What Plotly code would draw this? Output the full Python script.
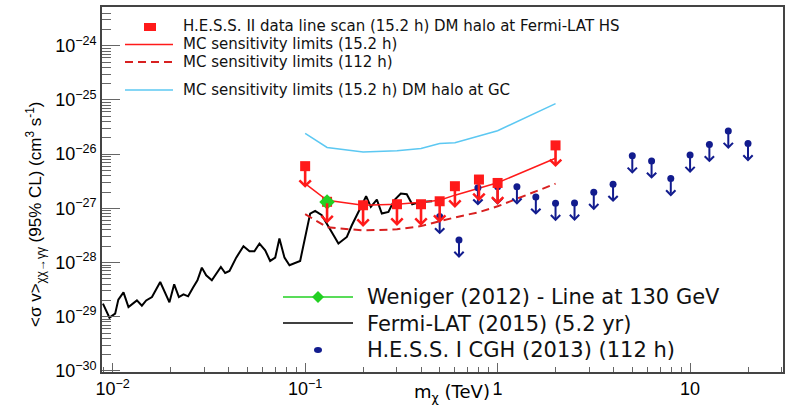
import plotly.graph_objects as go
import numpy as np

# ---------------- data ----------------
# Fermi-LAT (2015) 5.2 yr line-search limits
fermi_mass = [0.0089, 0.00962, 0.0103, 0.0107, 0.01138, 0.01208, 0.01336, 0.01418, 0.01493, 0.0160,
              0.01766, 0.01972, 0.02087, 0.02208, 0.02333, 0.02466, 0.02612, 0.02757, 0.02906, 0.0306,
              0.03275, 0.03648, 0.03841, 0.04045, 0.04383, 0.0478, 0.0514, 0.0545, 0.0579, 0.0620,
              0.0658, 0.0699, 0.0735, 0.0781, 0.0829, 0.0942, 0.1062, 0.1127, 0.1221, 0.1349,
              0.1489, 0.1647, 0.1748, 0.1931, 0.2074, 0.2194, 0.2358, 0.2503, 0.2709, 0.2900,
              0.3141, 0.3373, 0.360, 0.3953, 0.457]
fermi_sv = [1.74e-29, 9.6e-30, 1.14e-29, 2.07e-29, 2.82e-29, 1.51e-29, 2.0e-29, 1.60e-29, 2.0e-29, 2.31e-29,
            4.37e-29, 1.84e-29, 3.96e-29, 2.31e-29, 2.59e-29, 2.38e-29, 3.44e-29, 4.70e-29, 8.05e-29, 5.8e-29,
            4.70e-29, 8.26e-29, 6.40e-29, 6.97e-29, 1.23e-28, 2.0e-28, 1.61e-28, 1.61e-28, 2.24e-28, 1.68e-28,
            1.07e-28, 1.23e-28, 2.77e-28, 1.23e-28, 8.89e-29, 1.07e-28, 8.0e-28, 8.95e-28, 7.45e-28, 3.94e-28,
            2.24e-28, 2.96e-28, 4.87e-28, 9.9e-28, 1.67e-27, 1.06e-27, 1.45e-27, 8.0e-28, 8.57e-28, 1.41e-27,
            1.88e-27, 1.82e-27, 1.19e-27, 1.31e-27, 1.35e-27]

# H.E.S.S. II line scan masses (TeV)
hess2_mass = [0.1, 0.13, 0.2, 0.3, 0.4, 0.5, 0.6, 0.8, 1.0, 2.0]
hess2_data = [6.0e-27, 1.32e-27, 1.14e-27, 1.19e-27, 1.19e-27, 1.35e-27, 2.56e-27, 3.40e-27, 2.94e-27, 1.45e-26]
mc_15h = [2.85e-27, 1.41e-27, 1.14e-27, 1.19e-27, 1.29e-27, 1.41e-27, 1.75e-27, 2.35e-27, 2.97e-27, 8.4e-27]
mc_112h = [7.8e-28, 4.5e-28, 3.9e-28, 4.1e-28, 4.7e-28, 5.8e-28, 6.8e-28, 8.5e-28, 1.09e-27, 2.85e-27]
mc_gc = [2.41e-26, 1.33e-26, 1.09e-26, 1.15e-26, 1.27e-26, 1.57e-26, 1.63e-26, 2.15e-26, 2.71e-26, 8.55e-26]

# Weniger (2012) 130 GeV line
weniger_mass = [0.13]
weniger_sv = [1.31e-27]

# H.E.S.S. I CGH (2013) 112 h limits
hess1_mass = [0.5, 0.63, 0.79, 1.0, 1.26, 1.58, 2.0, 2.51, 3.16, 3.98,
              5.01, 6.31, 7.94, 10.0, 12.6, 15.8, 20.0]
hess1_sv = [7.1e-28, 2.6e-28, 2.4e-27, 2.5e-27, 2.5e-27, 1.62e-27, 1.24e-27, 1.25e-27, 1.98e-27, 2.79e-27,
            9.3e-27, 7.5e-27, 3.55e-27, 9.6e-27, 1.51e-26, 2.66e-26, 1.57e-26]

# axis tick labels
x_tickvals = [0.01, 0.1, 1, 10]
x_ticktext = ["10<sup>−2</sup>", "10<sup>−1</sup>", "1", "10"]
y_exponents = [-30, -29, -28, -27, -26, -25, -24]

# ---------------- style ----------------
RED = "#ff1a1a"
RED_D = "#d82020"
CYAN = "#5cc8f2"
GREEN = "#22d022"
BLUE = "#121c8e"
FONT = "Liberation Sans, Arial, sans-serif"
WIDE = "DejaVu Sans, sans-serif"

W, H = 792, 405
L, R, T, B = 102, 9, 7, 33
PW, PH = W - L - R, H - T - B


def pxx(v):
    return (v - L) / PW


def pxy(v):
    return (H - B - v) / PH


def minor_ticks(lo, hi):
    return [k * 10.0 ** e for e in range(lo, hi) for k in range(2, 10)]


fig = go.Figure()

fig.add_trace(go.Scatter(x=fermi_mass, y=fermi_sv, mode="lines",
                         line=dict(color="black", width=2), showlegend=False))
fig.add_trace(go.Scatter(x=hess2_mass, y=mc_112h, mode="lines",
                         line=dict(color=RED_D, width=2, dash="8px,5px"), showlegend=False))
fig.add_trace(go.Scatter(x=hess2_mass, y=mc_15h, mode="lines",
                         line=dict(color=RED, width=1.5), showlegend=False))
fig.add_trace(go.Scatter(x=hess2_mass, y=mc_gc, mode="lines",
                         line=dict(color=CYAN, width=1.5), showlegend=False))
fig.add_trace(go.Scatter(x=hess1_mass, y=hess1_sv, mode="markers",
                         marker=dict(symbol="circle", size=7, color=BLUE), showlegend=False))
fig.add_trace(go.Scatter(x=hess2_mass, y=hess2_data, mode="markers",
                         marker=dict(symbol="square", size=10, color=RED), showlegend=False))
fig.add_trace(go.Scatter(x=weniger_mass, y=weniger_sv, mode="markers",
                         marker=dict(symbol="diamond", size=12, color=GREEN), showlegend=False))

annotations = []

# upper-limit arrows (log-axis coordinates)
for m, v in zip(hess1_mass, hess1_sv):
    ly = np.log10(v)
    annotations.append(dict(x=np.log10(m), y=ly - 0.33, ax=np.log10(m), ay=ly,
                            xref="x", yref="y", axref="x", ayref="y", showarrow=True,
                            arrowhead=4, arrowsize=0.9, arrowwidth=2, arrowcolor=BLUE, text=""))
for m, v in zip(hess2_mass, hess2_data):
    ly = np.log10(v)
    annotations.append(dict(x=np.log10(m), y=ly - 0.40, ax=np.log10(m), ay=ly,
                            xref="x", yref="y", axref="x", ayref="y", showarrow=True,
                            arrowhead=4, arrowsize=0.85, arrowwidth=2.6, arrowcolor=RED, text=""))

# axis titles
annotations.append(dict(x=pxx(35), y=pxy(214), xref="paper", yref="paper", showarrow=False,
                        textangle=-90, xanchor="center", yanchor="middle",
                        text="&lt;σ v&gt;<sub>χχ→γγ</sub> (95% CL) (cm<sup>3</sup> s<sup>-1</sup>)",
                        font=dict(family=FONT, size=17, color="black")))
annotations.append(dict(x=pxx(491), y=pxy(393), xref="paper", yref="paper", showarrow=False,
                        xanchor="right", yanchor="middle", borderpad=0,
                        text="m<sub>χ</sub> (TeV)",
                        font=dict(family=WIDE, size=18, color="black")))

# legend texts
top_rows = [(26.5, "H.E.S.S. II data line scan (15.2 h) DM halo at Fermi-LAT HS"),
            (44.5, "MC sensitivity limits (15.2 h)"),
            (62.5, "MC sensitivity limits (112 h)"),
            (90, "MC sensitivity limits (15.2 h) DM halo at GC")]
for yy, t in top_rows:
    annotations.append(dict(x=pxx(182), y=pxy(yy), xref="paper", yref="paper", showarrow=False,
                            xanchor="left", yanchor="middle", text=t, borderpad=0,
                            font=dict(family=WIDE, size=15, color="#111")))
bot_rows = [(297, "Weniger (2012) - Line at 130 GeV"),
            (323.5, "Fermi-LAT (2015) (5.2 yr)"),
            (350, "H.E.S.S. I CGH (2013) (112 h)")]
for yy, t in bot_rows:
    annotations.append(dict(x=pxx(366), y=pxy(yy), xref="paper", yref="paper", showarrow=False,
                            xanchor="left", yanchor="middle", text=t, borderpad=0,
                            font=dict(family=WIDE, size=21, color="#111")))

# legend keys
shapes = [
    dict(type="rect", xref="paper", yref="paper", x0=pxx(144), x1=pxx(156), y0=pxy(31), y1=pxy(23),
         fillcolor=RED, line=dict(width=0)),
    dict(type="line", xref="paper", yref="paper", x0=pxx(125), x1=pxx(173), y0=pxy(44.5), y1=pxy(44.5),
         line=dict(color=RED, width=1.5)),
    dict(type="line", xref="paper", yref="paper", x0=pxx(125), x1=pxx(173), y0=pxy(62), y1=pxy(62),
         line=dict(color=RED_D, width=2, dash="8px,5px")),
    dict(type="line", xref="paper", yref="paper", x0=pxx(125), x1=pxx(173), y0=pxy(90), y1=pxy(90),
         line=dict(color=CYAN, width=1.5)),
    dict(type="line", xref="paper", yref="paper", x0=pxx(283), x1=pxx(353), y0=pxy(297), y1=pxy(297),
         line=dict(color=GREEN, width=1.5)),
    dict(type="path", xref="paper", yref="paper",
         path=f"M {pxx(318)},{pxy(291)} L {pxx(324)},{pxy(297)} L {pxx(318)},{pxy(303)} L {pxx(312)},{pxy(297)} Z",
         fillcolor=GREEN, line=dict(width=0)),
    dict(type="line", xref="paper", yref="paper", x0=pxx(283), x1=pxx(353), y0=pxy(323), y1=pxy(323),
         line=dict(color="black", width=1.5)),
    dict(type="circle", xref="paper", yref="paper", x0=pxx(314), x1=pxx(322), y0=pxy(353), y1=pxy(347),
         fillcolor=BLUE, line=dict(width=0)),
]

axis_common = dict(type="log", showgrid=False, zeroline=False, showline=True, mirror=True,
                   linecolor="#444", linewidth=1.5, ticks="inside", tickcolor="#666",
                   tickmode="array", automargin=False,
                   tickfont=dict(family=FONT, size=18, color="black"))

fig.update_layout(
    width=W, height=H,
    margin=dict(l=L, r=R, t=T, b=B, autoexpand=False),
    paper_bgcolor="white", plot_bgcolor="white",
    showlegend=False,
    xaxis=dict(range=[np.log10(0.0088), np.log10(30.4)], ticklen=9, tickwidth=1,
               tickvals=x_tickvals, ticktext=x_ticktext,
               minor=dict(ticks="inside", ticklen=5, tickmode="array", tickvals=minor_ticks(-3, 2),
                          tickcolor="#666", showgrid=False),
               **axis_common),
    yaxis=dict(range=[-30.02, -23.285], ticklen=18, tickwidth=1,
               tickvals=[10.0 ** e for e in y_exponents],
               ticktext=[f"10<sup>−{abs(e)}</sup>" for e in y_exponents],
               minor=dict(ticks="inside", ticklen=9, tickmode="array", tickvals=minor_ticks(-31, -23),
                          tickcolor="#666", showgrid=False),
               **axis_common),
    annotations=annotations,
    shapes=shapes,
)

fig.write_html("out.html")
